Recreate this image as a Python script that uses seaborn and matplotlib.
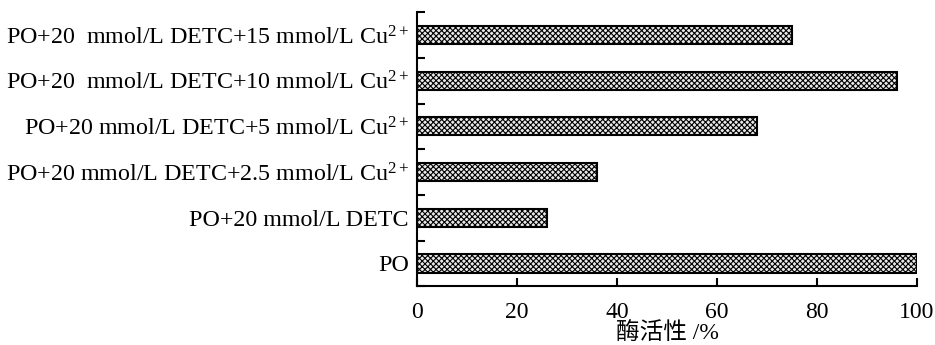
import matplotlib
matplotlib.use("Agg")
import matplotlib.pyplot as plt
import seaborn as sns
import pandas as pd
import numpy as np
from matplotlib.ticker import FixedLocator

categories = [
    r"PO+20  mmol/L DETC+15 mmol/L Cu$^{2+}$",
    r"PO+20  mmol/L DETC+10 mmol/L Cu$^{2+}$",
    r"PO+20 mmol/L DETC+5 mmol/L Cu$^{2+}$",
    r"PO+20 mmol/L DETC+2.5 mmol/L Cu$^{2+}$",
    "PO+20 mmol/L DETC",
    "PO",
]
values = [75, 96, 68, 36, 26, 100]
xticks = [0, 20, 40, 60, 80, 100]
xlabel = "酶活性 /%"

sns.set_theme(style="white")
plt.rcParams["font.family"] = ["Liberation Serif", "Noto Sans CJK SC"]
plt.rcParams["mathtext.fontset"] = "custom"
plt.rcParams["mathtext.rm"] = "Liberation Serif"
plt.rcParams["mathtext.it"] = "Liberation Serif:italic"
plt.rcParams["hatch.color"] = "#555555"
plt.rcParams["hatch.linewidth"] = 0.8
plt.rcParams["text.color"] = "black"
plt.rcParams["xtick.color"] = "black"
plt.rcParams["ytick.color"] = "black"
plt.rcParams["axes.labelcolor"] = "black"

df = pd.DataFrame({"cat": categories, "val": values})

fig = plt.figure(figsize=(9.35, 3.45), dpi=100)
ax = fig.add_axes([0.446, 0.170, 0.5348, 0.795])
sns.barplot(data=df, y="cat", x="val", orient="h", ax=ax, color="#e8e8e8",
            width=0.4, edgecolor="black", linewidth=1.5)
for p in ax.patches:
    p.set_hatch("xxxxxx")

ax.set_xlim(0, 100)
ax.set_ylim(len(categories) - 0.5, -0.5)
ax.set_xticks(xticks)
ax.set_xticklabels([str(t) for t in xticks], fontsize=17)
ax.tick_params(axis="y", which="major", left=False, length=0, labelsize=17.3, pad=6)
ax.yaxis.set_minor_locator(FixedLocator(np.arange(-0.5, len(categories), 1.0)))
ax.tick_params(axis="y", which="minor", left=True, direction="in", length=6, width=1.5, color="black")
ax.tick_params(axis="x", which="major", bottom=True, direction="in", length=6, width=1.5, color="black", pad=11)
ax.set_xlabel(xlabel, fontsize=17, labelpad=0)
ax.set_ylabel("")
for s in ["top", "right"]:
    ax.spines[s].set_visible(False)
for s in ["left", "bottom"]:
    ax.spines[s].set_color("black")
    ax.spines[s].set_linewidth(1.5)

fig.savefig("out.png", dpi=100)
